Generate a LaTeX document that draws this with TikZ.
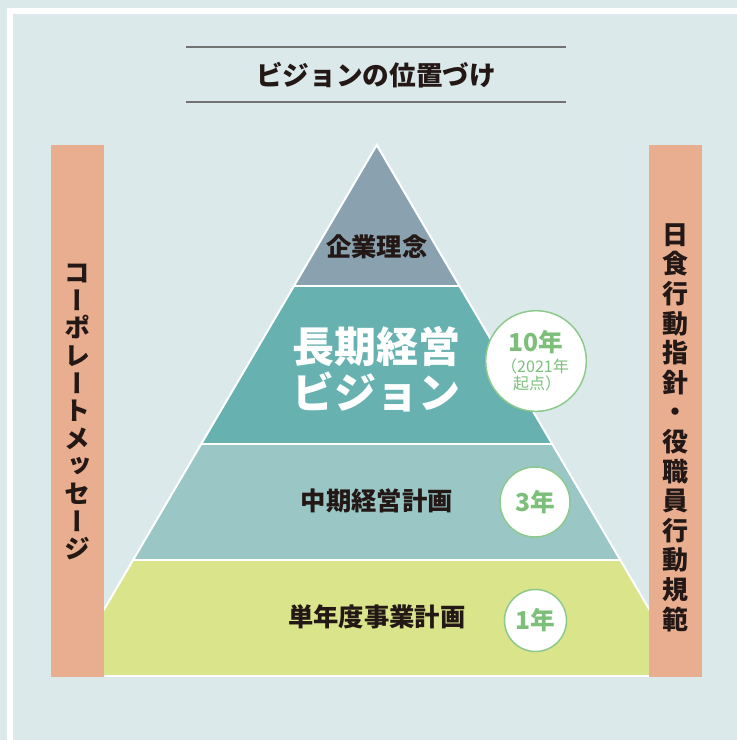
\documentclass[tikz,border=0pt]{standalone}
\usepackage{fontspec}
\setmainfont{Noto Sans CJK JP}
\newfontfamily\vjp[RawFeature=+vert]{Noto Sans CJK JP}
\definecolor{bgc}{HTML}{DBE9EA}
\definecolor{lay1}{HTML}{8AA2AF}
\definecolor{lay2}{HTML}{67B2B0}
\definecolor{lay3}{HTML}{9AC7C6}
\definecolor{lay4}{HTML}{D9E48B}
\definecolor{barc}{HTML}{E9AE90}
\definecolor{ringc}{HTML}{8CC98A}
\definecolor{ringt}{HTML}{7DBF7A}
\definecolor{inkc}{HTML}{231815}
\definecolor{rulec}{HTML}{727272}
\tikzset{
  sep/.style={white, line width=1.5pt},
  sidebar/.style={fill=barc, draw=none, minimum width=39.75pt, minimum height=399pt, inner sep=0pt},
  vtext/.style={text=inkc, align=center, inner sep=0pt},
  lbl/.style={text=inkc, inner sep=0pt, font=\bfseries\fontsize{19}{22}\selectfont},
  biglbl/.style={text=white, inner sep=0pt, align=center, font=\bfseries\fontsize{31.5}{34.5}\selectfont},
  ring/.style={circle, fill=white, draw=ringc, line width=1.1pt, inner sep=0pt},
  ringtext/.style={text=ringt, inner sep=0pt},
  titlerule/.style={rulec, line width=1.5pt}
}
\begin{document}
\begin{tikzpicture}[x=0.75pt,y=-0.75pt]
\useasboundingbox (0,0) rectangle (737,740);
\clip (0,0) rectangle (737,740);
\fill[bgc] (0,0) rectangle (737,740);
\draw[white, line width=4.5pt] (10,11) rectangle (800,800);

% title
\coordinate (tl1) at (186,47);
\coordinate (tr1) at (566,47);
\coordinate (tl2) at (186,102);
\coordinate (tr2) at (566,102);
\draw[titlerule] (tl1) -- (tr1);
\draw[titlerule] (tl2) -- (tr2);
\node[text=inkc, inner sep=0pt, font=\bfseries\fontsize{20}{22}\selectfont] (title) at (376,75) {ビジョンの位置づけ};

% pyramid
\coordinate (A) at (376.7,145);
\coordinate (L1) at (293.9,286);
\coordinate (R1) at (459.5,286);
\coordinate (L2) at (201.2,444);
\coordinate (R2) at (552.2,444);
\coordinate (L3) at (133.1,560);
\coordinate (R3) at (620.3,560);
\coordinate (L4) at (65.0,676);
\coordinate (R4) at (688.4,676);
\fill[lay1] (A) -- (R1) -- (L1) -- cycle;
\fill[lay2] (L1) -- (R1) -- (R2) -- (L2) -- cycle;
\fill[lay3] (L2) -- (R2) -- (R3) -- (L3) -- cycle;
\fill[lay4] (L3) -- (R3) -- (R4) -- (L4) -- cycle;
\draw[sep, line join=miter] (L4) -- (A) -- (R4);
\draw[sep] (L1) -- (R1);
\draw[sep] (L2) -- (R2);
\draw[sep] (L3) -- (R3);
\draw[sep] (L4) -- (R4);

\node[lbl] (t1) at (376.7,247) {企業理念};
\node[biglbl] (t2) at (376.7,369) {長期経営\\ビジョン};
\node[lbl] (t3) at (376.7,501) {中期経営計画};
\node[lbl] (t4) at (376.7,617) {単年度事業計画};

% side bars
\node[sidebar] (lbar) at (77.5,411) {};
\node[sidebar] (rbar) at (675.5,411) {};
\node[vtext, font=\vjp\bfseries\fontsize{19.5}{20.7}\selectfont] (ltext) at (77.5,412)
  {コ\\ー\\ポ\\レ\\ー\\ト\\メ\\ッ\\セ\\ー\\ジ};
\node[vtext, font=\vjp\bfseries\fontsize{19.5}{22.2}\selectfont] (rtext) at (675.5,427.5)
  {日\\食\\行\\動\\指\\針\\・\\役\\職\\員\\行\\動\\規\\範};

% rings
\node[ring, minimum size=75.5pt] (r10) at (536,361) {};
\node[ringtext, font=\bfseries\fontsize{18.5}{20}\selectfont] (r10a) at (536,342) {10年};
\node[ringtext, font=\fontsize{12}{14}\selectfont] (r10b) at (535,366) {（2021年};
\node[ringtext, font=\fontsize{12}{14}\selectfont] (r10c) at (537,383) {起点）};
\node[ring, minimum size=52.5pt] (r3) at (535,502) {};
\node[ringtext, font=\bfseries\fontsize{18.5}{20}\selectfont] (r3a) at (535,502) {3年};
\node[ring, minimum size=46.5pt] (r1) at (535.5,620.5) {};
\node[ringtext, font=\bfseries\fontsize{18.5}{20}\selectfont] (r1a) at (535.5,620.5) {1年};
\end{tikzpicture}
\end{document}
